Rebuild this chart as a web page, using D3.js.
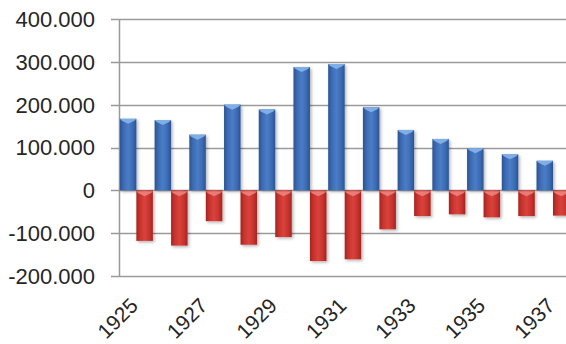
<!DOCTYPE html>
<html>
<head>
<meta charset="utf-8">
<script src="https://cdn.jsdelivr.net/npm/d3@7/dist/d3.min.js"></script>
<style>
  html, body { margin: 0; padding: 0; background: #fff; }
  svg { display: block; }
  text { font-family: "Liberation Sans", Arial, sans-serif; fill: #262626; }
</style>
</head>
<body>
<svg id="chart" width="566" height="344"></svg>
<script>
// Yearly figures: gains (blue) and losses (red)
const years = ["1925","1926","1927","1928","1929","1930","1931","1932","1933","1934","1935","1936","1937"];
const gains = [167000, 164000, 130000, 200000, 189000, 288000, 295000, 194000, 141000, 120000, 98000, 84000, 69000];
const losses = [-118000, -129000, -72000, -127000, -109000, -165000, -161000, -91000, -60000, -56000, -63000, -60000, -59000];
const yTicks = [-200000, -100000, 0, 100000, 200000, 300000, 400000];
const xLabelYears = ["1925","1927","1929","1931","1933","1935","1937"];

(function () {
  const svg = d3.select("#chart");
  const W = 566;
  const plotLeft = 119, plotTop = 19, plotBottom = 276;
  const step = 34.72;

  const x = d3.scaleBand()
    .domain(years)
    .range([plotLeft, plotLeft + step * years.length])
    .paddingInner(0.05)
    .paddingOuter(0.025);

  const sub = d3.scaleBand()
    .domain(["gain", "loss"])
    .range([0, x.bandwidth()]);

  const y = d3.scaleLinear().domain([-200000, 400000]).range([plotBottom, plotTop]);

  const locale = d3.formatLocale({ decimal: ",", thousands: ".", grouping: [3], currency: ["", ""], minus: "-" });
  const fmtTick = v => v === 0 ? "0" : locale.format(",")(v);

  const defs = svg.append("defs");
  function hGrad(id, edge, mid, center) {
    const g = defs.append("linearGradient").attr("id", id).attr("x1", "0").attr("x2", "1").attr("y1", "0").attr("y2", "0");
    [[0, edge], [0.22, mid], [0.5, center], [0.78, mid], [1, edge]].forEach(([o, c]) =>
      g.append("stop").attr("offset", o).attr("stop-color", c));
  }
  hGrad("gBlue", "#2b5392", "#3c6bb3", "#4a7dc6");
  hGrad("gRed", "#a52420", "#c8332e", "#d9423c");

  const shadow = defs.append("filter").attr("id", "shadow").attr("x", "-30%").attr("y", "-30%").attr("width", "160%").attr("height", "160%");
  shadow.append("feDropShadow").attr("dx", 1.5).attr("dy", 1.5).attr("stdDeviation", 1.4)
    .attr("flood-color", "#000").attr("flood-opacity", 0.3);

  // Grid lines with tick stubs left of the axis
  svg.append("g").selectAll("line").data(yTicks).join("line")
    .attr("x1", plotLeft - 8).attr("x2", W)
    .attr("y1", d => Math.round(y(d)) + 0.5).attr("y2", d => Math.round(y(d)) + 0.5)
    .attr("stroke", "#9a9a9a").attr("stroke-width", 1.5);

  // Vertical axis line
  svg.append("line")
    .attr("x1", plotLeft + 0.5).attr("x2", plotLeft + 0.5)
    .attr("y1", y(400000)).attr("y2", y(-200000))
    .attr("stroke", "#9a9a9a").attr("stroke-width", 1.5);

  // Y tick labels
  svg.append("g").selectAll("text").data(yTicks).join("text")
    .attr("x", 95).attr("y", d => y(d))
    .attr("dy", "0.36em")
    .attr("text-anchor", "end")
    .style("font-size", "22px")
    .text(fmtTick);

  // Bars
  const barsG = svg.append("g");
  function drawBars(values, key, fill, cap) {
    const g = barsG.append("g").attr("filter", "url(#shadow)");
    const items = years.map((yr, i) => ({ yr, v: values[i] }));
    const grp = g.selectAll("g").data(items).join("g");
    grp.append("rect")
      .attr("x", d => x(d.yr) + sub(key))
      .attr("width", sub.bandwidth())
      .attr("y", d => Math.min(y(d.v), y(0)))
      .attr("height", d => Math.abs(y(d.v) - y(0)))
      .attr("fill", fill);
    // light bevel at the top end of each bar
    grp.append("path")
      .attr("d", d => {
        const x0 = x(d.yr) + sub(key), x1 = x0 + sub.bandwidth();
        const t = d.v >= 0 ? y(d.v) : y(0) + 1;
        const xm = (x0 + x1) / 2;
        return `M${x0},${t}L${x1},${t}L${x1 - 2},${t + 2}L${xm},${t + 5}L${x0 + 2},${t + 2}Z`;
      })
      .attr("fill", cap).attr("opacity", 0.9);
  }
  drawBars(gains, "gain", "url(#gBlue)", "#86b5ea");
  drawBars(losses, "loss", "url(#gRed)", "#ec827c");

  // X labels, rotated
  svg.append("g").selectAll("text").data(xLabelYears).join("text")
    .attr("transform", d => `translate(${x(d) + x.bandwidth() / 2 + 3},307) rotate(-45)`)
    .attr("text-anchor", "end")
    .style("font-size", "21px")
    .text(d => d);
})();
</script>
</body>
</html>
